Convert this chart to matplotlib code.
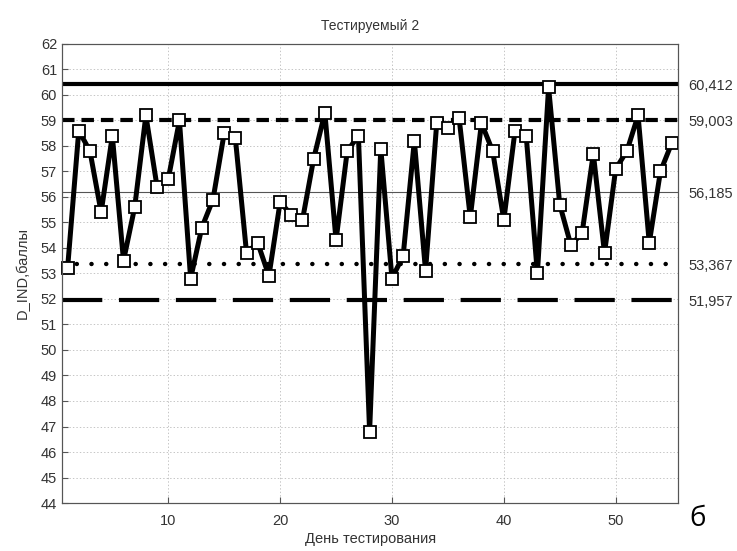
import matplotlib
matplotlib.use('Agg')
import matplotlib.pyplot as plt

plt.rcParams['font.family'] = ['Liberation Sans', 'DejaVu Sans']
plt.rcParams['lines.scale_dashes'] = False

days = list(range(1, 56))
scores = [53.2, 58.6, 57.8, 55.4, 58.4, 53.5, 55.6, 59.2, 56.4, 56.7,
          59.0, 52.8, 54.8, 55.9, 58.5, 58.3, 53.8, 54.2, 52.9, 55.8,
          55.3, 55.1, 57.5, 59.3, 54.3, 57.8, 58.4, 46.8, 57.9, 52.8,
          53.7, 58.2, 53.1, 58.9, 58.7, 59.1, 55.2, 58.9, 57.8, 55.1,
          58.6, 58.4, 53.0, 60.3, 55.7, 54.1, 54.6, 57.7, 53.8, 57.1,
          57.8, 59.2, 54.2, 57.0, 58.1]

ucl = 60.412
upper2 = 59.003
mean = 56.185
lower2 = 53.367
lcl = 51.957
ref_values = [ucl, upper2, mean, lower2, lcl]
ref_labels = ['60,412', '59,003', '56,185', '53,367', '51,957']

text_color = '#333333'

fig = plt.figure(figsize=(7.37, 5.51), dpi=100)
ax = fig.add_axes([0.0841, 0.0871, 0.8363, 0.8331])

ax.axhline(ucl, color='black', lw=3.0, zorder=2)
ax.axhline(upper2, color='black', lw=3.0, linestyle=(0, (9, 5)), zorder=2)
ax.axhline(mean, color='#555555', lw=0.8, zorder=2)
ax.axhline(lower2, color='black', lw=3.2, linestyle=(0, (0.1, 10.5)),
           dash_capstyle='round', zorder=2)
ax.axhline(lcl, color='black', lw=3.0, linestyle=(0, (29, 12)), zorder=2)

ax.plot(days, scores, color='black', lw=3.6, marker='s', markersize=9,
        markerfacecolor='white', markeredgecolor='black', markeredgewidth=1.3,
        zorder=3, clip_on=False)

ax.set_xlim(0.5, 55.6)
ax.set_ylim(44, 62)
ax.set_xticks([10, 20, 30, 40, 50])
ax.set_yticks(range(44, 63))
ax.grid(True, color='#bbbbbb', linestyle=(0, (1, 1.5)), lw=0.6)
ax.set_axisbelow(True)
ax.tick_params(direction='in', length=4, labelsize=10.5, colors='#555555',
               labelcolor=text_color)
ax.tick_params(axis='x', pad=8)
for s in ax.spines.values():
    s.set_color('#555555')

ax2 = ax.twinx()
ax2.set_ylim(44, 62)
ax2.set_yticks(ref_values)
ax2.set_yticklabels(ref_labels)
ax2.tick_params(length=0, labelsize=10.5, labelcolor=text_color, pad=7)
for s in ax2.spines.values():
    s.set_color('#555555')

ax.set_title('Тестируемый 2', fontsize=10, color=text_color, pad=10)
ax.set_xlabel('День тестирования', fontsize=10.5, color=text_color, labelpad=3)
ax.set_ylabel('D_IND,баллы', fontsize=10.5, color=text_color, labelpad=8)

fig.text(0.935, 0.045, 'б', fontsize=20, color='black', family='Open Sans')

fig.savefig('out.png', dpi=100)
